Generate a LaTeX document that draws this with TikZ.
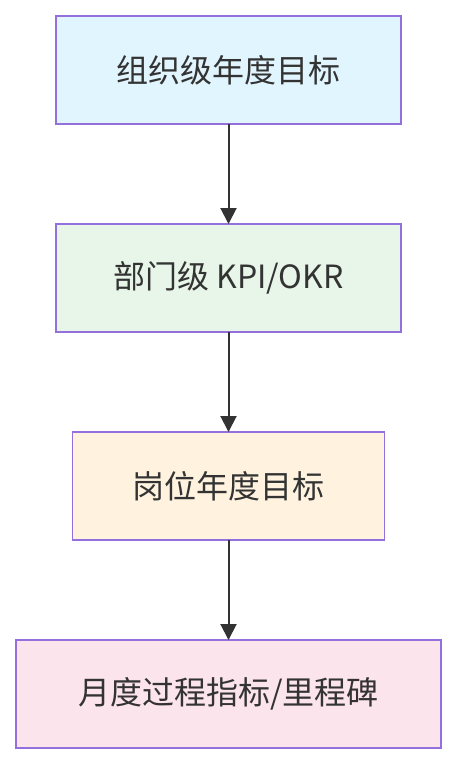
\documentclass[tikz,border=0pt]{standalone}
\usepackage{fontspec}
\setmainfont{Noto Sans CJK SC}
\usetikzlibrary{positioning,arrows.meta}
\definecolor{edgegray}{HTML}{333333}
\definecolor{boxline}{HTML}{9370DB}
\definecolor{orgblue}{HTML}{E1F5FE}
\definecolor{deptgreen}{HTML}{E8F5E9}
\definecolor{postorange}{HTML}{FFF3E0}
\definecolor{monthpink}{HTML}{FCE4EC}
\tikzset{
  goalbox/.style={draw=boxline, line width=1.6pt, minimum height=108pt, outer sep=0pt,
    font=\fontsize{32}{38}\selectfont, text=edgegray, inner sep=0pt},
  flow/.style={draw=edgegray, line width=2pt, -{Triangle[width=16pt,length=16pt]}}
}
\begin{document}
\begin{tikzpicture}[x=1pt,y=1pt]
        \useasboundingbox (0,0) rectangle (456,-764);
        \node [goalbox, fill=orgblue, minimum width=345pt] (org) at (228.5,-70) {组织级年度目标};
        \node [goalbox, fill=deptgreen, minimum width=345pt, below=100pt of org] (dept) {部门级 KPI/OKR};
        \node [goalbox, fill=postorange, minimum width=312pt, below=100pt of dept] (post) {岗位年度目标};
        \node [goalbox, fill=monthpink, minimum width=425pt, below=100pt of post] (month) {月度过程指标/里程碑};
        \draw [flow] (org) -- (dept);
        \draw [flow] (dept) -- (post);
        \draw [flow] (post) -- (month);
    \end{tikzpicture}
\end{document}
